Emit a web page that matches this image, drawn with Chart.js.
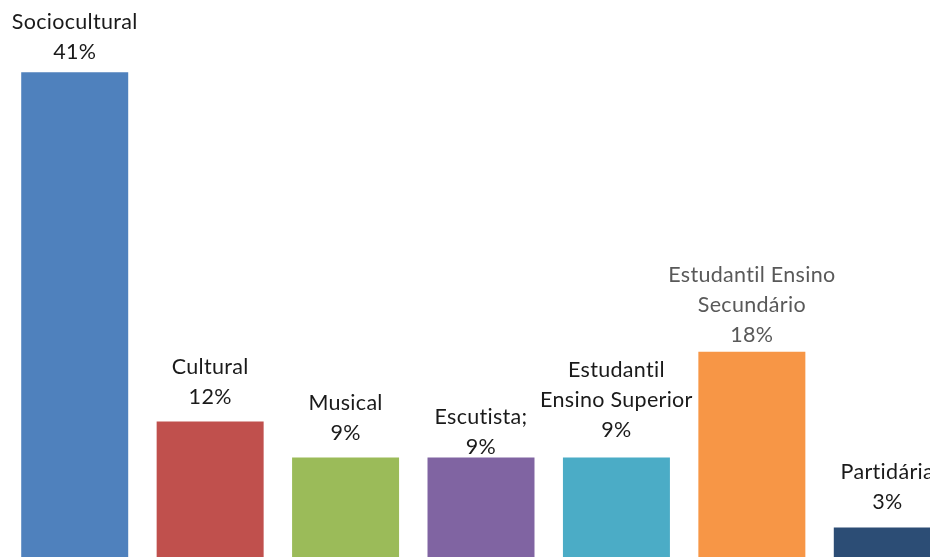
<!DOCTYPE html>
<html>
<head>
<meta charset="utf-8">
<script src="https://cdn.jsdelivr.net/npm/chart.js@4"></script>
<style>
  html, body { margin: 0; padding: 0; background: #fff; }
  #wrap { width: 930px; height: 557px; overflow: hidden; position: relative; }
  #chart { position: absolute; left: 0; top: 0; }
</style>
</head>
<body>
<div id="wrap"><canvas id="chart" width="955" height="566"></canvas></div>
<script>
  // categories and values (percent)
  var categories = ['Sociocultural', 'Cultural', 'Musical', 'Escutista;', 'Estudantil Ensino Superior', 'Estudantil Ensino Secundário', 'Partidária'];
  var labelLines = [
    ['Sociocultural', '41%'],
    ['Cultural', '12%'],
    ['Musical', '9%'],
    ['Escutista;', '9%'],
    ['Estudantil', 'Ensino Superior', '9%'],
    ['Estudantil Ensino', 'Secundário', '18%'],
    ['Partidária', '3%']
  ];
  var values = [41, 12, 9, 9, 9, 17.8, 3.2];
  var barColors = ['#4F81BD', '#C0504D', '#9BBB59', '#8064A2', '#4BACC6', '#F79646', '#2C4D75'];

  // gap between bar top and centre of last label line
  var labelGap = [20, 24, 25, 11, 28, 17, 25];
  var labelColor = ['#1a1a1a', '#1a1a1a', '#1a1a1a', '#1a1a1a', '#1a1a1a', '#595959', '#1a1a1a'];

  var barLabels = {
    id: 'barLabels',
    afterDatasetsDraw: function (chart) {
      var ctx = chart.ctx;
      var meta = chart.getDatasetMeta(0);
      ctx.save();
      ctx.font = '21.5px Lato';
      ctx.letterSpacing = '0.3px'; // also stops the "ti" ligature
      ctx.textAlign = 'center';
      ctx.textBaseline = 'middle';
      meta.data.forEach(function (bar, i) {
        var lines = labelLines[i];
        var lastY = bar.y - labelGap[i];
        ctx.fillStyle = labelColor[i];
        for (var k = 0; k < lines.length; k++) {
          ctx.fillText(lines[k], bar.x, lastY - (lines.length - 1 - k) * 30);
        }
      });
      ctx.restore();
    }
  };

  var ctx = document.getElementById('chart').getContext('2d');
  window.myBar = new Chart(ctx, {
    type: 'bar',
    data: {
      labels: categories,
      datasets: [{
        data: values,
        backgroundColor: barColors,
        borderWidth: 0,
        categoryPercentage: 1,
        barPercentage: 0.79
      }]
    },
    options: {
      responsive: false,
      animation: false,
      layout: { padding: { left: 7, right: 0, top: 0, bottom: 0 } },
      plugins: {
        legend: { display: false },
        tooltip: { enabled: false }
      },
      scales: {
        x: { display: false },
        y: { display: false, min: 0, max: 47 }
      }
    },
    plugins: [barLabels]
  });
</script>
</body>
</html>
